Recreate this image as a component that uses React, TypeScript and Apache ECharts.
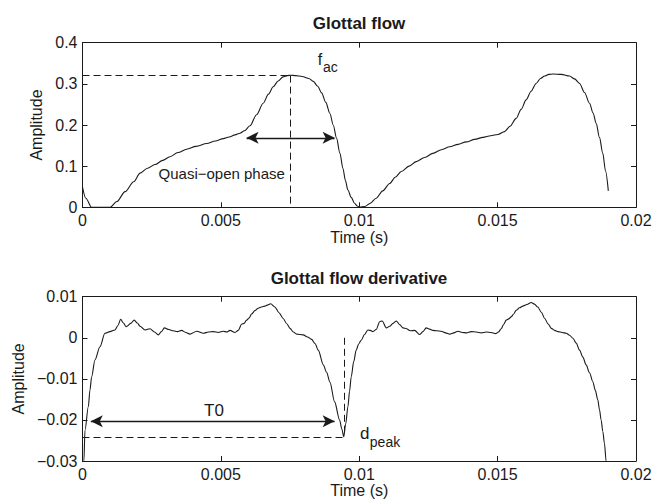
import { useEffect, useRef } from "react";
import * as echarts from "echarts";

// ---------- data ----------
const xTickLabels = ["0", "0.005", "0.01", "0.015", "0.02"];
const flowTickLabels = ["0", "0.1", "0.2", "0.3", "0.4"];
const derivTickLabels = ["\u22120.03", "\u22120.02", "\u22120.01", "0", "0.01"];

const flowTime = [
  0, 0.00012, 0.00033, 0.001, 0.00124, 0.00154, 0.00185, 0.00208, 0.00235, 0.00262,
  0.0029, 0.00316, 0.00345, 0.00376, 0.0041, 0.00449, 0.0048, 0.00509, 0.0053, 0.00551,
  0.00569, 0.00585, 0.00605, 0.00629, 0.00653, 0.00672, 0.00689, 0.00707, 0.00725, 0.0074,
  0.00752, 0.0077, 0.00794, 0.00818, 0.00834, 0.0085, 0.00864, 0.00879, 0.00894, 0.00906,
  0.00918, 0.0093, 0.00941, 0.0095, 0.00959, 0.00971, 0.00983, 0.00993, 0.01001, 0.0102,
  0.0104, 0.01061, 0.01085, 0.0111, 0.0113, 0.01152, 0.0118, 0.01206, 0.01236, 0.01266,
  0.01297, 0.01327, 0.01357, 0.01387, 0.01417, 0.01447, 0.01475, 0.01501, 0.01525, 0.01545,
  0.01567, 0.01585, 0.01603, 0.01621, 0.01639, 0.01655, 0.0167, 0.01685, 0.017, 0.0173,
  0.0176, 0.01778, 0.01796, 0.01814, 0.01832, 0.01845, 0.01856, 0.01868, 0.0188, 0.0189,
  0.019,
];
const flowAmp = [
  0.049, 0.022, 0.0, 0.0, 0.014, 0.038, 0.062, 0.083, 0.095, 0.104,
  0.114, 0.123, 0.133, 0.141, 0.148, 0.155, 0.161, 0.167, 0.171, 0.176,
  0.18, 0.186, 0.198, 0.225, 0.253, 0.275, 0.293, 0.307, 0.317, 0.32,
  0.321, 0.32, 0.318, 0.313, 0.306, 0.294, 0.278, 0.255, 0.228, 0.2,
  0.168, 0.132, 0.095, 0.065, 0.042, 0.024, 0.01, 0.003, 0.0, 0.002,
  0.01, 0.022, 0.04, 0.058, 0.073, 0.087, 0.1, 0.111, 0.121, 0.131,
  0.14, 0.147, 0.153, 0.159, 0.165, 0.17, 0.174, 0.177, 0.184, 0.197,
  0.216, 0.238, 0.261, 0.282, 0.301, 0.313, 0.319, 0.323, 0.324, 0.323,
  0.319, 0.312, 0.301, 0.279, 0.253, 0.229, 0.204, 0.17, 0.131, 0.088,
  0.04,
];

const derivTime = [
  0, 0.00005, 0.00009, 0.00021, 0.00027, 0.00033, 0.00045, 0.00063, 0.00081, 0.00099,
  0.00117, 0.00128, 0.00138, 0.00148, 0.00157, 0.0016, 0.00174, 0.00187, 0.00198, 0.00208,
  0.00226, 0.00244, 0.0026, 0.00274, 0.00285, 0.00296, 0.00312, 0.00328, 0.00343, 0.00358,
  0.00373, 0.00388, 0.00413, 0.00437, 0.00455, 0.00473, 0.00491, 0.00509, 0.00521, 0.00533,
  0.00551, 0.00563, 0.00575, 0.00584, 0.00593, 0.00602, 0.00611, 0.00623, 0.00635, 0.00647,
  0.00659, 0.0067, 0.0068, 0.00695, 0.0071, 0.00725, 0.00738, 0.0075, 0.00762, 0.00774,
  0.00786, 0.00798, 0.00813, 0.00828, 0.0084, 0.00852, 0.0087, 0.00882, 0.00894, 0.00911,
  0.00929, 0.00937, 0.00944, 0.00951, 0.00959, 0.00965, 0.00971, 0.0098, 0.00989, 0.00998,
  0.01007, 0.01019, 0.01031, 0.0104, 0.01049, 0.01061, 0.01074, 0.01083, 0.01098, 0.0111,
  0.01122, 0.01134, 0.01146, 0.01158, 0.01171, 0.01184, 0.012, 0.01218, 0.0123, 0.01242,
  0.01254, 0.01266, 0.01281, 0.01296, 0.01312, 0.01327, 0.01342, 0.01356, 0.01372, 0.01387,
  0.01405, 0.01423, 0.01441, 0.01459, 0.01476, 0.01493, 0.01503, 0.01513, 0.01522, 0.01531,
  0.0154, 0.01549, 0.01558, 0.01567, 0.01579, 0.01591, 0.01606, 0.01621, 0.01633, 0.01645,
  0.01658, 0.0167, 0.01682, 0.01694, 0.01706, 0.01718, 0.01733, 0.01748, 0.0176, 0.01772,
  0.01784, 0.01796, 0.01808, 0.0182, 0.01832, 0.01844, 0.01853, 0.01862, 0.01868, 0.01874,
  0.0188, 0.01886, 0.01892, 0.01896,
];
const derivAmp = [
  -0.036, -0.03, -0.0225, -0.0168, -0.0127, -0.0095, -0.0054, -0.0022, 0.0011, 0.0015,
  0.0019, 0.003, 0.0045, 0.0036, 0.0027, 0.0028, 0.0035, 0.0043, 0.0036, 0.0028,
  0.0019, 0.0022, 0.0014, 0.0007, 0.0015, 0.0024, 0.002, 0.0017, 0.0015, 0.0018,
  0.0013, 0.0009, 0.0016, 0.0011, 0.0014, 0.0015, 0.0013, 0.0016, 0.0014, 0.0018,
  0.0013, 0.0018, 0.0033, 0.0035, 0.0043, 0.0048, 0.0058, 0.0066, 0.0072, 0.0075,
  0.0077, 0.008, 0.0083, 0.0075, 0.0061, 0.0047, 0.0034, 0.0023, 0.0014, 0.0009,
  0.0008, 0.0007, 0.0002, -0.0004, -0.0014, -0.003, -0.0066, -0.0084, -0.0108, -0.0156,
  -0.02, -0.0222, -0.0241, -0.021, -0.0168, -0.013, -0.0095, -0.0058, -0.003, -0.0015,
  -0.0006, 0.0008, 0.0019, 0.0018, 0.0015, 0.002, 0.0039, 0.0041, 0.0024, 0.0028,
  0.0035, 0.0041, 0.0032, 0.0024, 0.0022, 0.0017, 0.0018, 0.0008, 0.0015, 0.0024,
  0.0021, 0.0018, 0.0017, 0.0016, 0.0012, 0.0009, 0.0012, 0.0016, 0.0013, 0.0012,
  0.0015, 0.0014, 0.0012, 0.0014, 0.0013, 0.001, 0.0014, 0.0022, 0.0033, 0.0043,
  0.0046, 0.0051, 0.0058, 0.0067, 0.0073, 0.0077, 0.0081, 0.0086, 0.0082, 0.0075,
  0.0062, 0.0047, 0.0034, 0.0023, 0.0018, 0.0015, 0.0013, 0.0011, 0.0006, -0.0001,
  -0.0013, -0.003, -0.0047, -0.0066, -0.0085, -0.0107, -0.0128, -0.0151, -0.0175, -0.02,
  -0.0228, -0.0257, -0.03, -0.034,
];

// annotation values
const facPoint = [0.00752, 0.32];
const quasiOpen = [0.00593, 0.00911, 0.169];
const dPeakPoint = [0.00944, -0.0241];
const t0Span = [0.0003, 0.00911, -0.0203];

const FONT = "'Liberation Sans', Arial, Helvetica, sans-serif";
const INK = "#1a1a1a";

function xAxisPair(grid: number) {
  const base = {
    gridIndex: grid,
    type: "value" as const,
    min: 0,
    max: 0.02,
    interval: 0.005,
    splitLine: { show: false },
    axisLine: { show: true, onZero: false, lineStyle: { color: INK, width: 1 } },
    axisTick: { show: true, inside: true, length: 5, lineStyle: { color: INK, width: 1 } },
  };
  return [
    {
      ...base,
      position: "bottom",
      axisLabel: {
        show: true,
        fontSize: 16,
        fontFamily: FONT,
        color: INK,
        margin: 5,
        formatter: (v: number) => xTickLabels[Math.round(v / 0.005)] ?? "",
      },
      name: "Time (s)",
      nameLocation: "middle",
      nameGap: 14,
      nameTextStyle: { fontSize: 16, fontFamily: FONT, color: INK },
    },
    { ...base, position: "top", axisLabel: { show: false } },
  ];
}

function yAxisPair(grid: number, min: number, max: number, step: number, labels: string[], gap: number) {
  const base = {
    gridIndex: grid,
    type: "value" as const,
    min,
    max,
    interval: step,
    splitLine: { show: false },
    axisLine: { show: true, onZero: false, lineStyle: { color: INK, width: 1 } },
    axisTick: { show: true, inside: true, length: 5, lineStyle: { color: INK, width: 1 } },
  };
  return [
    {
      ...base,
      position: "left",
      axisLabel: {
        show: true,
        fontSize: 16,
        fontFamily: FONT,
        color: INK,
        margin: 5,
        formatter: (v: number) => labels[Math.round((v - min) / step)] ?? "",
      },
      name: "Amplitude",
      nameLocation: "middle",
      nameGap: gap,
      nameRotate: 90,
      nameTextStyle: { fontSize: 16, fontFamily: FONT, color: INK },
    },
    { ...base, position: "right", axisLabel: { show: false } },
  ];
}

function textMark(coord: number[], text: string, size: number) {
  return {
    coord,
    symbol: "circle",
    symbolSize: 1,
    itemStyle: { color: "rgba(0,0,0,0)" },
    label: {
      show: true,
      position: "inside",
      formatter: text,
      fontSize: size,
      fontFamily: FONT,
      color: INK,
    },
  };
}

const dashed = { type: [7, 4], color: INK, width: 1 };
const arrowLine = { type: "solid", color: INK, width: 1.3 };
const arrowSize = [9, 12];

export default function App() {
  const ref = useRef<HTMLDivElement>(null);

  useEffect(() => {
    if (!ref.current) return;
    const chart = echarts.init(ref.current, undefined, { renderer: "svg" });

    const option: any = {
      animation: false,
      backgroundColor: "#ffffff",
      title: [
        {
          text: "Glottal flow",
          left: 359,
          textAlign: "center",
          top: 14.5,
          padding: 0,
          textStyle: { fontSize: 17, fontWeight: "bold", fontFamily: FONT, color: INK },
        },
        {
          text: "Glottal flow derivative",
          left: 359,
          textAlign: "center",
          top: 269.5,
          padding: 0,
          textStyle: { fontSize: 17, fontWeight: "bold", fontFamily: FONT, color: INK },
        },
      ],
      grid: [
        { left: 82.5, right: 17, top: 42.7, height: 164.6, outerBoundsMode: "none", containLabel: false },
        { left: 82.5, right: 17, top: 296.7, height: 164.3, outerBoundsMode: "none", containLabel: false },
      ],
      xAxis: [...xAxisPair(0), ...xAxisPair(1)],
      yAxis: [
        ...yAxisPair(0, 0, 0.4, 0.1, flowTickLabels, 31.5),
        ...yAxisPair(1, -0.03, 0.01, 0.01, derivTickLabels, 52.5),
      ],
      series: [
        {
          name: "Glottal flow",
          type: "line",
          xAxisIndex: 0,
          yAxisIndex: 0,
          data: flowTime.map((t, i) => [t, flowAmp[i]]),
          showSymbol: false,
          smooth: 0.3,
          smoothMonotone: "x",
          clip: true,
          lineStyle: { color: INK, width: 1.1 },
          markLine: {
            silent: true,
            symbol: ["none", "none"],
            label: { show: false },
            data: [
              [
                { coord: [0, facPoint[1]], lineStyle: dashed },
                { coord: [facPoint[0], facPoint[1]] },
              ],
              [
                { coord: [facPoint[0], facPoint[1]], lineStyle: dashed },
                { coord: [facPoint[0], 0] },
              ],
              [
                { coord: [quasiOpen[0], quasiOpen[2]], symbol: "arrow", symbolSize: arrowSize, lineStyle: arrowLine },
                { coord: [quasiOpen[1], quasiOpen[2]], symbol: "arrow", symbolSize: arrowSize },
              ],
            ],
          },
          markPoint: {
            silent: true,
            data: [
              textMark([0.00858, 0.359], "f", 16),
              textMark([0.00896, 0.342], "ac", 14),
              textMark([0.00503, 0.0826], "Quasi\u2212open phase", 15),
            ],
          },
        },
        {
          name: "Glottal flow derivative",
          type: "line",
          xAxisIndex: 2,
          yAxisIndex: 2,
          data: derivTime.map((t, i) => [t, derivAmp[i]]),
          showSymbol: false,
          smooth: 0.3,
          smoothMonotone: "x",
          clip: true,
          lineStyle: { color: INK, width: 1.1 },
          markLine: {
            silent: true,
            symbol: ["none", "none"],
            label: { show: false },
            data: [
              [
                { coord: [0, dPeakPoint[1]], lineStyle: dashed },
                { coord: [dPeakPoint[0], dPeakPoint[1]] },
              ],
              [
                { coord: [dPeakPoint[0], 0], lineStyle: dashed },
                { coord: [dPeakPoint[0], dPeakPoint[1]] },
              ],
              [
                { coord: [t0Span[0], t0Span[2]], symbol: "arrow", symbolSize: arrowSize, lineStyle: arrowLine },
                { coord: [t0Span[1], t0Span[2]], symbol: "arrow", symbolSize: arrowSize },
              ],
            ],
          },
          markPoint: {
            silent: true,
            data: [
              textMark([0.00475, -0.01776], "T0", 17),
              textMark([0.0102, -0.02326], "d", 17),
              textMark([0.01093, -0.02538], "peak", 14),
            ],
          },
        },
      ],
    };

    chart.setOption(option);
    return () => chart.dispose();
  }, []);

  return (
    <div
      ref={ref}
      style={{ position: "fixed", left: 0, top: 0, width: 653, height: 503, background: "#fff" }}
    />
  );
}
